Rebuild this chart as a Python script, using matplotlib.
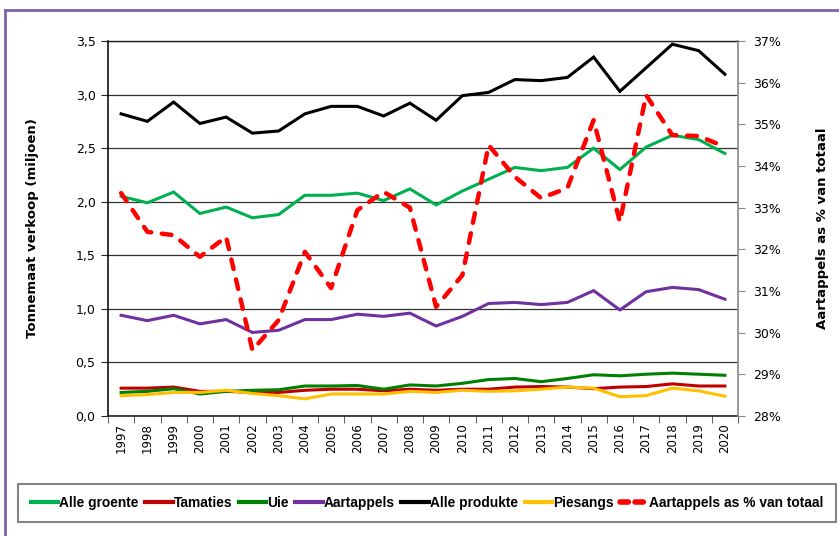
import matplotlib
matplotlib.use("Agg")
import matplotlib.pyplot as plt
from matplotlib.ticker import FuncFormatter, MultipleLocator
from matplotlib.lines import Line2D

years = list(range(1997, 2021))
year_labels = [str(y) for y in years]

alle_groente = [2.05, 1.99, 2.09, 1.89, 1.95, 1.85, 1.88, 2.06, 2.06, 2.08, 2.01, 2.12,
                1.97, 2.10, 2.21, 2.32, 2.29, 2.32, 2.50, 2.30, 2.51, 2.62, 2.58, 2.45]
tamaties = [0.26, 0.26, 0.27, 0.23, 0.23, 0.22, 0.22, 0.24, 0.25, 0.25, 0.235, 0.25,
            0.24, 0.25, 0.25, 0.27, 0.275, 0.27, 0.255, 0.27, 0.275, 0.30, 0.28, 0.28]
uie = [0.22, 0.23, 0.255, 0.205, 0.23, 0.24, 0.245, 0.28, 0.28, 0.285, 0.25, 0.29,
       0.28, 0.305, 0.34, 0.35, 0.32, 0.35, 0.385, 0.375, 0.39, 0.40, 0.39, 0.38]
aartappels = [0.94, 0.89, 0.94, 0.86, 0.90, 0.78, 0.80, 0.90, 0.90, 0.95, 0.93, 0.96,
              0.84, 0.93, 1.05, 1.06, 1.04, 1.06, 1.17, 0.99, 1.16, 1.20, 1.18, 1.09]
alle_produkte = [2.82, 2.75, 2.93, 2.73, 2.79, 2.64, 2.66, 2.82, 2.89, 2.89, 2.80, 2.92,
                 2.76, 2.99, 3.02, 3.14, 3.13, 3.16, 3.35, 3.03, 3.25, 3.47, 3.41, 3.19]
piesangs = [0.19, 0.20, 0.22, 0.22, 0.24, 0.21, 0.19, 0.16, 0.205, 0.205, 0.205, 0.23,
            0.22, 0.24, 0.23, 0.235, 0.25, 0.27, 0.26, 0.18, 0.19, 0.26, 0.235, 0.185]
aartappels_pct = [33.35, 32.42, 32.34, 31.82, 32.3, 29.58, 30.3, 31.94, 31.07, 32.94, 33.38, 33.0,
                  30.62, 31.38, 34.5, 33.74, 33.23, 33.47, 35.1, 32.66, 35.7, 34.74, 34.72, 34.46]

series = [
    ("Alle groente", alle_groente, "#00B050"),
    ("Tamaties", tamaties, "#C00000"),
    ("Uie", uie, "#008000"),
    ("Aartappels", aartappels, "#7030A0"),
    ("Alle produkte", alle_produkte, "#000000"),
    ("Piesangs", piesangs, "#FFC000"),
]
pct_label = "Aartappels as % van totaal"
pct_color = "#FF0000"

fig = plt.figure(figsize=(8.39, 5.36), dpi=100)
ax = fig.add_axes([108/839, 1-416/536, 630/839, 375/536])
x = list(range(len(years)))

for name, vals, col in series:
    ax.plot(x, vals, color=col, lw=2.2, solid_joinstyle="miter", zorder=3)

ax.set_xlim(-0.5, len(years) - 0.5)
ax.set_ylim(0, 3.5)
ax.yaxis.set_major_locator(MultipleLocator(0.5))
ax.yaxis.set_major_formatter(FuncFormatter(lambda v, p: f"{v:.1f}".replace(".", ",")))
ax.grid(axis="y", color="#333333", lw=0.9)
ax.set_axisbelow(True)
ax.set_xticks(x)
ax.set_xticklabels(year_labels, rotation=90, fontsize=8.5, family="DejaVu Sans")
ax.set_xticks([i - 0.5 for i in range(len(years) + 1)], minor=True)
ax.tick_params(axis="x", which="major", length=0, pad=5)
ax.tick_params(axis="x", which="minor", length=5, color="#444444", direction="out")
ax.tick_params(axis="y", length=5, color="#222222", labelsize=9, pad=4)
for lbl in ax.get_yticklabels():
    lbl.set_family("DejaVu Sans")
ax.spines["left"].set_color("#111111")
ax.spines["left"].set_linewidth(1.2)
ax.spines["bottom"].set_color("#222222")
ax.spines["bottom"].set_linewidth(1.2)
ax.spines["top"].set_color("#222222")
ax.spines["top"].set_linewidth(1.0)
ax.spines["right"].set_visible(False)
ax.set_ylabel("Tonnemaat verkoop (miljoen)", fontsize=9.5, fontweight="bold",
              family="DejaVu Sans", labelpad=26)

ax2 = ax.twinx()
ax2.plot(x, aartappels_pct, color=pct_color, lw=3.2, ls=(0, (2.2, 2.4)),
         dash_capstyle="round", zorder=4)
ax2.set_ylim(28, 37)
ax2.yaxis.set_major_locator(MultipleLocator(1))
ax2.yaxis.set_major_formatter(FuncFormatter(lambda v, p: f"{v:.0f}%"))
ax2.tick_params(axis="y", length=5, color="#888888", labelsize=9, pad=6)
for lbl in ax2.get_yticklabels():
    lbl.set_family("DejaVu Sans")
ax2.spines["right"].set_color("#888888")
ax2.spines["right"].set_linewidth(1.2)
for s in ("left", "top", "bottom"):
    ax2.spines[s].set_visible(False)
ax2.set_ylabel(pct_label, fontsize=9.5, fontweight="bold", family="DejaVu Sans",
               labelpad=25)

handles = [Line2D([], [], color=col, lw=3) for _, _, col in series]
handles.append(Line2D([], [], color=pct_color, lw=4, ls=(0, (1.5, 1.2)), dash_capstyle="round"))
labels = [n for n, _, _ in series] + [pct_label]
leg = fig.legend(handles, labels, loc="center", bbox_to_anchor=(427/839, 1-503/536),
                 ncol=7, frameon=True, fancybox=False, edgecolor="#666666",
                 handlelength=2.0, handletextpad=0.1, columnspacing=0.45,
                 borderpad=0.9, prop={"family": ["Liberation Sans Narrow", "Liberation Sans"],
                                      "weight": "bold", "size": 9.9})
leg.get_frame().set_linewidth(1.5)

# outer purple frame (top and left visible)
fig.add_artist(Line2D([5/839, 5/839], [0, 1-10/536], transform=fig.transFigure,
                      color="#7F63A8", lw=2))
fig.add_artist(Line2D([5/839, 1], [1-10/536, 1-10/536], transform=fig.transFigure,
                      color="#7F63A8", lw=2))

fig.savefig("out.png", dpi=100)
